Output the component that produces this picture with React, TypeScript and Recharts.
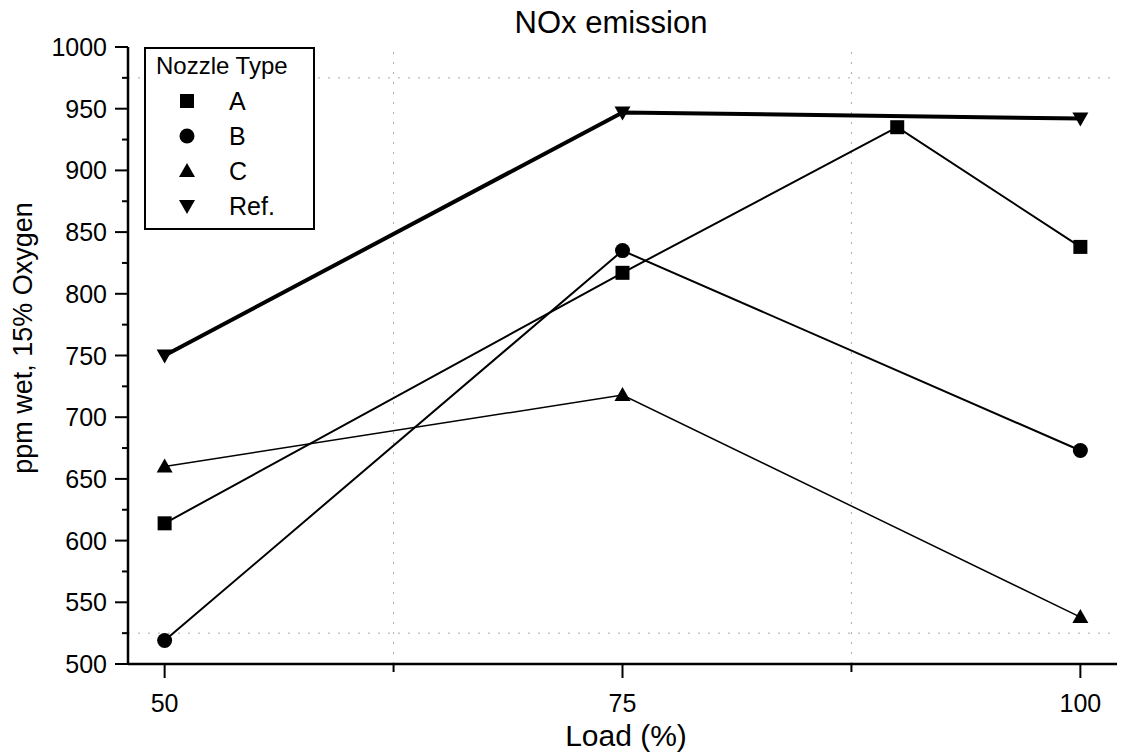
import { LineChart, Line, XAxis, YAxis, ReferenceLine, Legend } from "recharts";

const loads = [50, 75, 100];
const loadsA = [50, 75, 90, 100];
const nozzleA = [614, 817, 935, 838];
const nozzleB = [519, 835, 673];
const nozzleC = [660, 718, 538];
const reference = [750, 947, 942];

const xTicks = [50, 62.5, 75, 87.5, 100];
const yTicks = [500, 525, 550, 575, 600, 625, 650, 675, 700, 725, 750, 775, 800, 825, 850, 875, 900, 925, 950, 975, 1000];
const xGrid = [62.5, 87.5];
const yGrid = [525, 975];

const seriesNames = ["A", "B", "C", "Ref."];

const toPoints = (xs: number[], ys: number[]) => xs.map((x, i) => ({ load: x, ppm: ys[i] }));

const dataA = toPoints(loadsA, nozzleA);
const dataB = toPoints(loads, nozzleB);
const dataC = toPoints(loads, nozzleC);
const dataRef = toPoints(loads, reference);

const FONT = "'Liberation Sans', Arial, sans-serif";

function Marker({ kind, cx, cy }: { kind: string; cx: number; cy: number }) {
  if (kind === "A") return <rect x={cx - 7} y={cy - 7} width={14} height={14} fill="#000" />;
  if (kind === "B") return <circle cx={cx} cy={cy} r={7.5} fill="#000" />;
  if (kind === "C")
    return <polygon points={`${cx},${cy - 8} ${cx + 8},${cy + 6} ${cx - 8},${cy + 6}`} fill="#000" />;
  return <polygon points={`${cx - 8},${cy - 6} ${cx + 8},${cy - 6} ${cx},${cy + 8}`} fill="#000" />;
}

const makeDot = (kind: string) => (props: any) =>
  <Marker key={`${kind}-${props.index}`} kind={kind} cx={props.cx} cy={props.cy} />;

function YTick({ x, y, payload }: any) {
  const major = payload.value % 50 === 0;
  return (
    <g>
      <line x1={x - (major ? 13 : 6)} x2={x} y1={y} y2={y} stroke="#000" strokeWidth={2} />
      {major && (
        <text x={x - 21} y={y + 9} textAnchor="end" fontSize={25} fontFamily={FONT} fill="#000">
          {payload.value}
        </text>
      )}
    </g>
  );
}

function XTick({ x, y, payload }: any) {
  const major = payload.value % 25 === 0;
  return (
    <g>
      <line x1={x} x2={x} y1={y} y2={y + (major ? 14 : 8)} stroke="#000" strokeWidth={2} />
      {major && (
        <text x={x} y={y + 48} textAnchor="middle" fontSize={25} fontFamily={FONT} fill="#000">
          {payload.value}
        </text>
      )}
    </g>
  );
}

function LegendBox() {
  return (
    <div
      style={{
        width: 171,
        height: 183,
        border: "2px solid #000",
        boxSizing: "border-box",
        background: "#fff",
        fontFamily: FONT,
      }}
    >
      <svg width={167} height={179}>
        <text x={10} y={25} fontSize={24} fontFamily={FONT} fill="#000">
          Nozzle Type
        </text>
        {seriesNames.map((name, i) => (
          <g key={name}>
            <Marker kind={name} cx={41} cy={52 + i * 35} />
            <text x={83} y={61 + i * 35} fontSize={25} fontFamily={FONT} fill="#000">
              {name}
            </text>
          </g>
        ))}
      </svg>
    </div>
  );
}

export default function App() {
  return (
    <div style={{ position: "absolute", left: 0, top: 0, background: "#fff" }}>
      <LineChart width={1121} height={754} margin={{ top: 47, right: 4, bottom: 0, left: 0 }}>
        <XAxis
          dataKey="load"
          type="number"
          domain={[48, 102]}
          ticks={xTicks}
          allowDuplicatedCategory={false}
          tick={<XTick />}
          tickLine={false}
          tickSize={0}
          tickMargin={0}
          height={90}
          axisLine={{ stroke: "#000", strokeWidth: 2.5 }}
        />
        <YAxis
          dataKey="ppm"
          type="number"
          domain={[500, 1000]}
          ticks={yTicks}
          interval={0}
          tick={<YTick />}
          tickLine={false}
          tickSize={0}
          tickMargin={0}
          width={128}
          axisLine={{ stroke: "#000", strokeWidth: 2.5 }}
        />
        {xGrid.map((v) => (
          <ReferenceLine key={`x${v}`} x={v} stroke="#aaa" strokeWidth={1} strokeDasharray="2 8" />
        ))}
        {yGrid.map((v) => (
          <ReferenceLine key={`y${v}`} y={v} stroke="#aaa" strokeWidth={1} strokeDasharray="2 8" />
        ))}
        <Line data={dataRef} dataKey="ppm" name="Ref." stroke="#000" strokeWidth={4} dot={makeDot("Ref.")} isAnimationActive={false} />
        <Line data={dataA} dataKey="ppm" name="A" stroke="#000" strokeWidth={2} dot={makeDot("A")} isAnimationActive={false} />
        <Line data={dataB} dataKey="ppm" name="B" stroke="#000" strokeWidth={2} dot={makeDot("B")} isAnimationActive={false} />
        <Line data={dataC} dataKey="ppm" name="C" stroke="#000" strokeWidth={1.5} dot={makeDot("C")} isAnimationActive={false} />
        <Legend
          layout="vertical"
          align="center"
          verticalAlign="middle"
          content={<LegendBox />}
          wrapperStyle={{ position: "absolute", left: 144, top: 47, width: 171, height: 183 }}
        />
        <text x={611} y={33} textAnchor="middle" fontSize={31} fontFamily={FONT} fill="#000">
          NOx emission
        </text>
        <text x={626} y={746} textAnchor="middle" fontSize={30} fontFamily={FONT} fill="#000">
          Load (%)
        </text>
        <text
          x={32}
          y={338}
          transform="rotate(-90 32 338)"
          textAnchor="middle"
          fontSize={27}
          fontFamily={FONT}
          fill="#000"
        >
          ppm wet, 15% Oxygen
        </text>
      </LineChart>
    </div>
  );
}
